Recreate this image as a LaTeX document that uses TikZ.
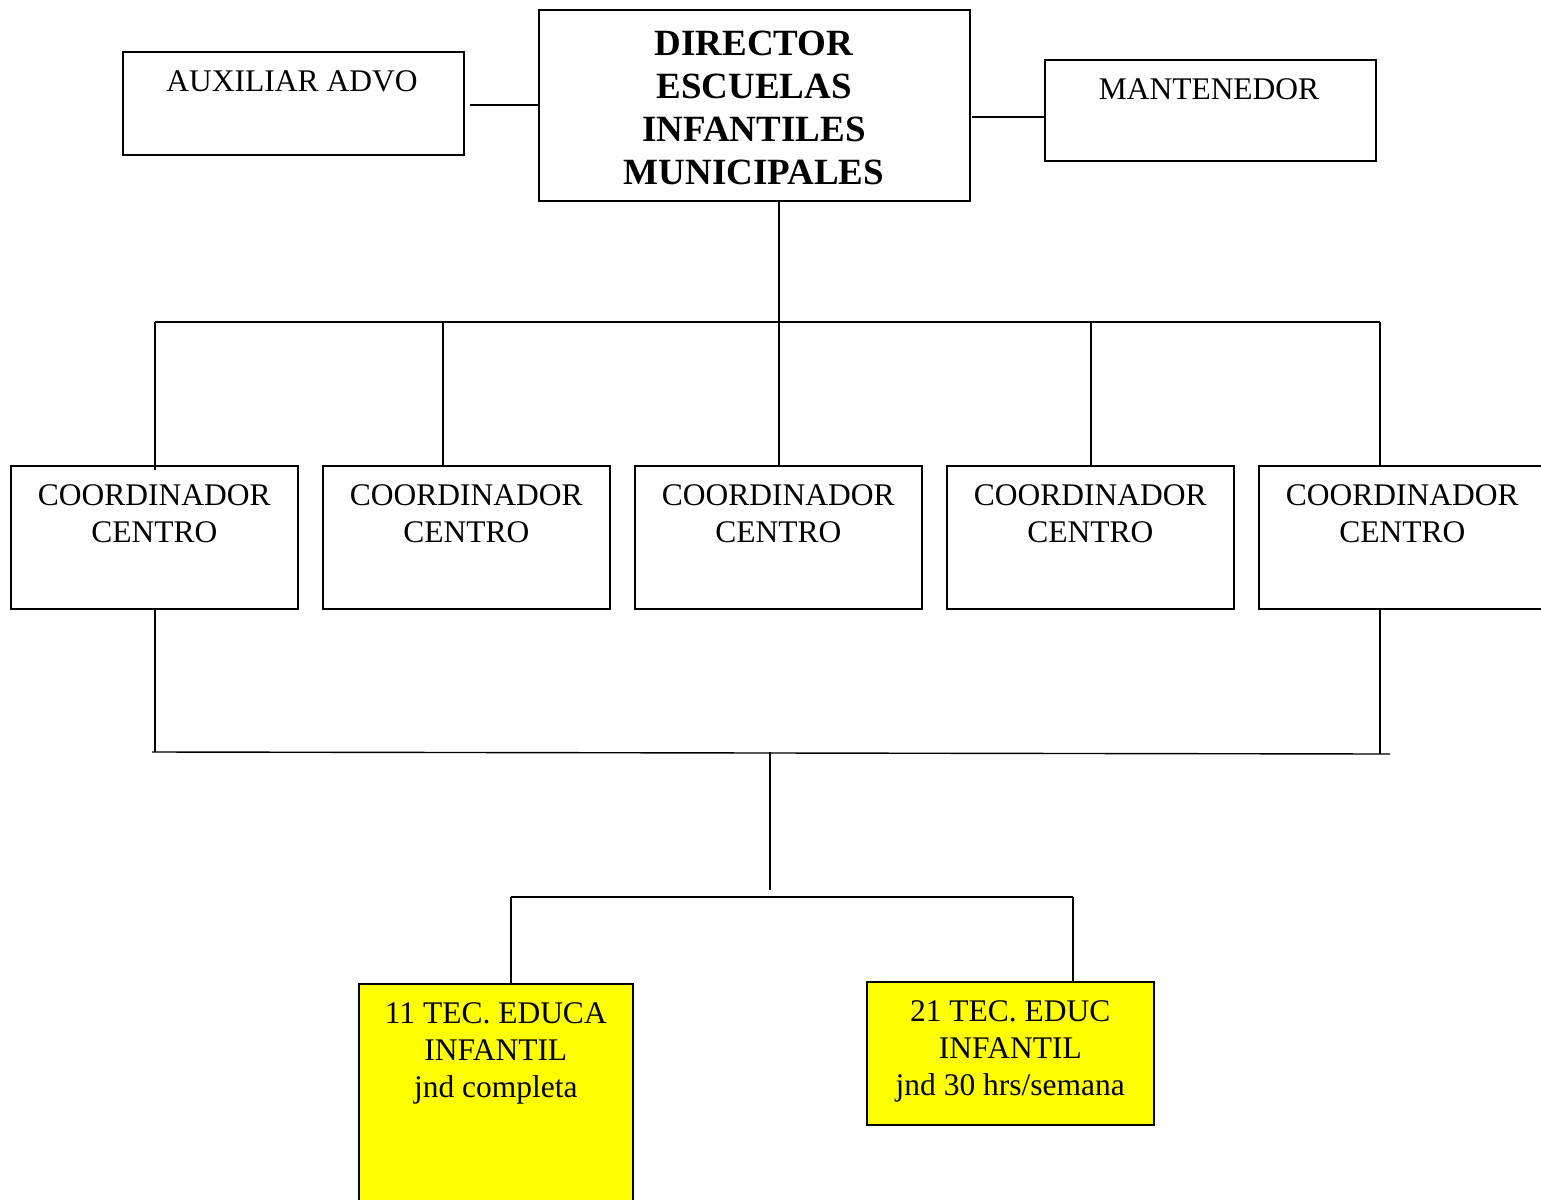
\documentclass[tikz,border=0pt]{standalone}
\usepackage{fontspec}
\setmainfont{Liberation Serif}
\usepackage{xcolor}
\usetikzlibrary{positioning}
\definecolor{amarillo}{RGB}{255,255,0}

\tikzset{
    caja/.style={draw, line width=1.6pt, anchor=north west, inner sep=0pt},
    texto/.style={anchor=north, align=center, inner sep=0pt, font=\fontsize{31.5}{37}\selectfont},
    linea/.style={line width=1.4pt}
}

\begin{document}
\begin{tikzpicture}[x=1pt,y=-1pt]
            \useasboundingbox (0,0) rectangle (1541,1199);
            \node[caja, minimum width=341pt, minimum height=103pt] (aux) at (122,51) {};
            \node[caja, minimum width=431pt, minimum height=191pt] (dir) at (538,9) {};
            \node[caja, minimum width=331pt, minimum height=101pt] (man) at (1044,59) {};
            \node[texto] (auxt) at (292,70) {AUXILIAR ADVO};
            \node[texto, font=\fontsize{37}{43}\selectfont\bfseries] (dirt) at (754,31) {DIRECTOR\\ESCUELAS\\INFANTILES\\MUNICIPALES};
            \node[texto] (mant) at (1209,78) {MANTENEDOR};
            \foreach \x/\n in {10/1,322/2,634/3,946/4,1258/5}{
                \node[caja, minimum width=287pt, minimum height=143pt] (c\n) at (\x,465) {};
                \node[texto, below=19pt of c\n.north] (ct\n) {COORDINADOR\\CENTRO};
            }
            \node[caja, fill=amarillo, minimum width=274pt, minimum height=230pt] (t1) at (358,983) {};
            \node[caja, fill=amarillo, minimum width=287pt, minimum height=143pt] (t2) at (866,981) {};
            \node[texto, below=19pt of t1.north] (tt1) {11 TEC. EDUCA\\INFANTIL\\jnd completa};
            \node[texto, below=19pt of t2.north] (tt2) {21 TEC. EDUC\\INFANTIL\\jnd 30 hrs/semana};
            \coordinate (a1) at (470,105);
            \coordinate (m1) at (972,117);
            \coordinate (d1) at (779,322);
            \coordinate (b1) at (155,322);
            \coordinate (b2) at (1380,322);
            \coordinate (e1) at (152,752);
            \coordinate (e2) at (1390,754);
            \coordinate (f1) at (770,752);
            \coordinate (f2) at (770,890);
            \coordinate (g1) at (511,897);
            \coordinate (g2) at (1073,897);
            \draw[linea] (a1) -- (dir.west |- a1);
            \draw[linea] (m1) -- (man.west |- m1);
            \draw[linea] (dir.south -| d1) -- (d1);
            \draw[linea] (b1) -- (b2);
            \draw[linea] (b1) -- (155,470);
            \draw[linea] (443,322) -- (443,465);
            \draw[linea] (d1) -- (779,465);
            \draw[linea] (1091,322) -- (1091,465);
            \draw[linea] (b2) -- (1380,465);
            \draw[linea] (155,608) -- (155,752);
            \draw[linea] (1380,608) -- (1380,754);
            \draw[linea] (e1) -- (e2);
            \draw[linea] (f1) -- (f2);
            \draw[linea] (g1) -- (g2);
            \draw[linea] (g1) -- (g1 |- t1.north);
            \draw[linea] (g2) -- (g2 |- t2.north);
        \end{tikzpicture}
\end{document}
